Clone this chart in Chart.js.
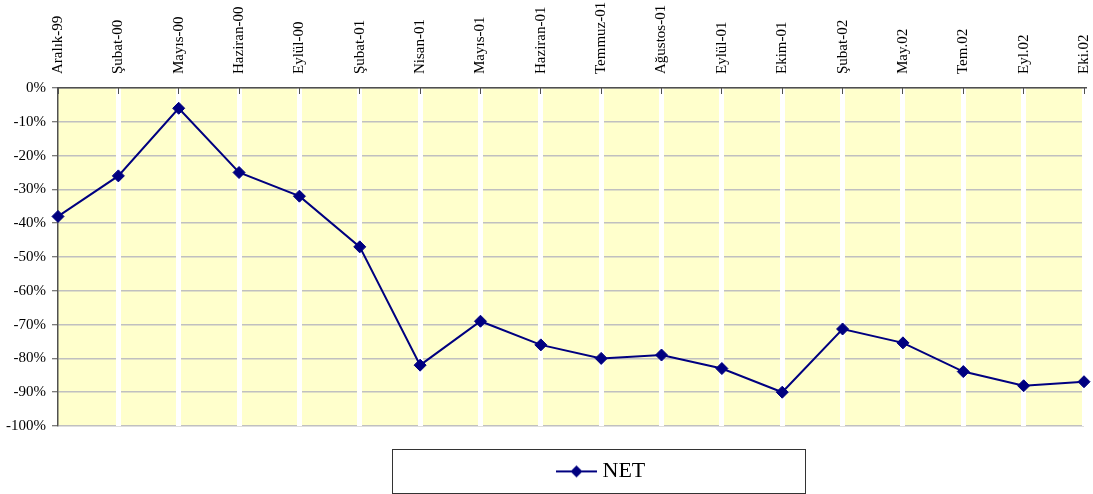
<!DOCTYPE html>
<html>
<head>
<meta charset="utf-8">
<script src="https://cdn.jsdelivr.net/npm/chart.js@4/dist/chart.umd.min.js"></script>
<style>
html,body{margin:0;padding:0;background:#fff;}
#wrap{width:1093px;height:494px;position:relative;}
</style>
</head>
<body>
<div id="wrap"><canvas id="c"></canvas></div>
<script>
const categories = ["Aralık-99","Şubat-00","Mayıs-00","Haziran-00","Eylül-00","Şubat-01","Nisan-01","Mayıs-01","Haziran-01","Temmuz-01","Ağustos-01","Eylül-01","Ekim-01","Şubat-02","May.02","Tem.02","Eyl.02","Eki.02"];
const netValues = [-38,-26,-6,-25,-32,-47,-82,-69,-76,-80,-79,-83,-90,-71.3,-75.4,-83.9,-88.1,-86.9];
const seriesName = "NET";
const yMin = -100, yMax = 0, yStep = 10;

const NAVY = '#000080';
const FONT = "'Liberation Serif', 'Times New Roman', serif";

// legend marker: line with diamond
const marker = document.createElement('canvas');
marker.width = 41; marker.height = 14;
(function(){
  const g = marker.getContext('2d');
  g.strokeStyle = NAVY; g.lineWidth = 2;
  g.beginPath(); g.moveTo(0,7); g.lineTo(41,7); g.stroke();
  g.fillStyle = NAVY;
  g.beginPath(); g.moveTo(20.5,1); g.lineTo(26.5,7); g.lineTo(20.5,13); g.lineTo(14.5,7); g.closePath(); g.fill();
})();

const decor = {
  id: 'decor',
  beforeDraw(chart){
    const {ctx, chartArea:a} = chart;
    ctx.save();
    ctx.fillStyle = '#ffffff';
    ctx.fillRect(0,0,chart.width,chart.height);
    ctx.fillStyle = '#FFFFCC';
    ctx.fillRect(a.left, a.top, a.right-a.left, a.bottom-a.top);
    ctx.restore();
  },
  afterUpdate(chart){
    const lg = chart.legend;
    if (!lg || !lg.legendHitBoxes || !lg.legendHitBoxes.length) return;
    const d = 561.5 - lg.legendHitBoxes[0].left;
    lg.left += d; lg.right += d;
    lg.legendHitBoxes.forEach(h => { h.left += d; });
  },
  afterDraw(chart){
    const lg = chart.legend;
    if (!lg || !lg.legendHitBoxes || !lg.legendHitBoxes.length) return;
    const hb = lg.legendHitBoxes[0];
    const cy = hb.top + hb.height/2;
    const ctx = chart.ctx;
    ctx.save();
    ctx.strokeStyle = '#333';
    ctx.lineWidth = 1;
    ctx.strokeRect(Math.round(hb.left - 170)+0.5, Math.round(cy - 22)+0.5, 413, 44);
    ctx.restore();
  }
};

new Chart(document.getElementById('c'), {
  type: 'line',
  data: {
    labels: categories,
    datasets: [{
      label: seriesName,
      data: netValues,
      borderColor: NAVY,
      backgroundColor: NAVY,
      borderWidth: 2,
      tension: 0,
      fill: false,
      pointStyle: 'rectRot',
      pointRadius: 6,
      pointHoverRadius: 6,
      pointBackgroundColor: NAVY,
      pointBorderColor: NAVY,
      pointBorderWidth: 1
    }]
  },
  options: {
    responsive: true,
    maintainAspectRatio: false,
    animation: false,
    devicePixelRatio: 1,
    layout: { padding: { left: 0, right: 9, top: 0, bottom: 1.6 } },
    plugins: {
      tooltip: { enabled: false },
      legend: {
        position: 'bottom',
        align: 'center',
        title: { display: true, text: '', padding: 0, font: { size: 22, family: FONT } },
        labels: {
          usePointStyle: true,
          pointStyle: marker,
          pointStyleWidth: 30,
          padding: 8,
          color: '#000',
          font: { family: FONT, size: 22 }
        }
      }
    },
    scales: {
      x: {
        type: 'category',
        position: 'top',
        offset: false,
        afterFit(s){ s.height = 88; s.paddingLeft = 0; s.paddingRight = 0; },
        grid: {
          z: -1,
          color: (c) => c.index === 0 ? 'rgba(0,0,0,0)' : '#ffffff',
          lineWidth: 5,
          drawTicks: true,
          tickLength: -6,
          tickColor: '#505050',
          tickWidth: 1
        },
        border: { display: true, color: '#505050', width: 1.5 },
        ticks: {
          autoSkip: false,
          minRotation: 90,
          maxRotation: 90,
          padding: 20,
          labelOffset: 18,
          color: '#000',
          font: { family: FONT, size: 15 }
        }
      },
      y: {
        min: yMin,
        max: yMax,
        afterFit(s){ s.width = 58; },
        grid: {
          z: -2,
          color: '#c0c0c0',
          lineWidth: 1.5,
          tickLength: 6,
          tickColor: '#505050',
          tickWidth: 1
        },
        border: { display: true, color: '#505050', width: 1.5 },
        ticks: {
          stepSize: yStep,
          padding: 6,
          color: '#000',
          font: { family: FONT, size: 15 },
          callback: (v) => v + '%'
        }
      }
    }
  },
  plugins: [decor]
});
</script>
</body>
</html>
